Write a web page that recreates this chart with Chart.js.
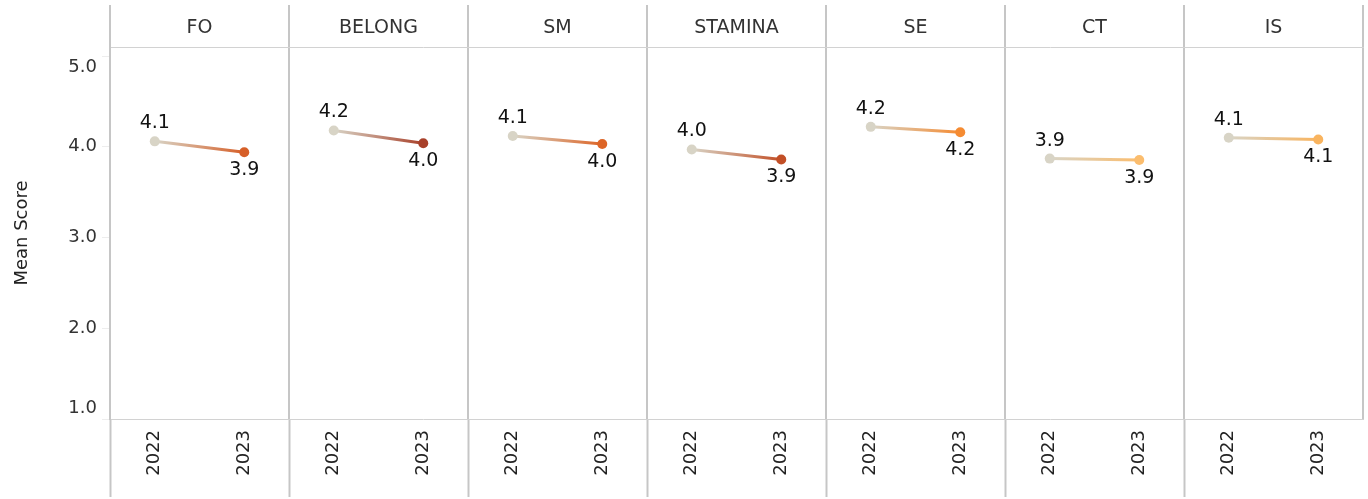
<!DOCTYPE html>
<html>
<head>
<meta charset="utf-8">
<script src="https://cdn.jsdelivr.net/npm/chart.js@4"></script>
<style>
  html, body { margin: 0; padding: 0; background: #fff; }
  #wrap { width: 1368px; height: 499px; }
</style>
</head>
<body>
<div id="wrap"><canvas id="chart"></canvas></div>
<script>
const groups = ['FO', 'BELONG', 'SM', 'STAMINA', 'SE', 'CT', 'IS'];
const years = ['2022', '2023'];
const mean2022 = [4.06, 4.18, 4.12, 3.97, 4.22, 3.87, 4.10];
const mean2023 = [3.94, 4.04, 4.03, 3.86, 4.16, 3.855, 4.08];
const endColors = ['#d65f28', '#a8402a', '#dd6527', '#c24f26', '#f58b32', '#fbbd6e', '#f9b45f'];
const startColor = '#d8d4c6';
const yTicks = [1, 2, 3, 4, 5];

const FONT = 'DejaVu Sans';
const LINE = '#c6c6c6';
const HLINE = '#d2d2d2';
const font = { family: FONT, size: 18 };

// one x category per (group, year) pair
const xLabels = groups.flatMap(() => years);

const datasets = groups.map((g, i) => {
  const data = xLabels.map(() => null);
  data[i * 2] = mean2022[i];
  data[i * 2 + 1] = mean2023[i];
  return {
    label: g,
    data,
    borderWidth: 3,
    borderColor: ctx => {
      const chart = ctx.chart;
      const x = chart.scales.x;
      if (!chart.chartArea || !x) return endColors[i];
      const x0 = x.getPixelForValue(i * 2);
      const x1 = x.getPixelForValue(i * 2 + 1);
      const grad = chart.ctx.createLinearGradient(x0, 0, x1, 0);
      grad.addColorStop(0, startColor);
      grad.addColorStop(1, endColors[i]);
      return grad;
    },
    pointRadius: 5,
    pointHoverRadius: 5,
    pointBorderWidth: 0,
    pointBackgroundColor: ctx => ctx.dataIndex % 2 === 0 ? startColor : endColors[i],
    spanGaps: false
  };
});

// value above the 2022 point, below the 2023 point
const valueLabels = {
  id: 'valueLabels',
  afterDatasetsDraw(chart) {
    const c = chart.ctx;
    c.save();
    c.font = `19px "${FONT}"`;
    c.fillStyle = '#111';
    c.textAlign = 'center';
    c.textBaseline = 'middle';
    chart.data.datasets.forEach((ds, i) => {
      const meta = chart.getDatasetMeta(i);
      [i * 2, i * 2 + 1].forEach((idx, k) => {
        const pt = meta.data[idx];
        c.fillText(ds.data[idx].toFixed(1), pt.x, k === 0 ? pt.y - 18 : pt.y + 18);
      });
    });
    c.restore();
  }
};

new Chart(document.getElementById('chart'), {
  type: 'line',
  data: { labels: xLabels, datasets },
  plugins: [valueLabels],
  options: {
    responsive: true,
    maintainAspectRatio: false,
    animation: false,
    layout: { padding: { top: 5, right: 4, left: 0, bottom: 0 } },
    plugins: { legend: { display: false }, tooltip: { enabled: false } },
    scales: {
      x: {
        type: 'category',
        position: 'bottom',
        offset: true,
        border: { display: true, color: HLINE },
        grid: {
          offset: true,
          drawOnChartArea: false,
          tickLength: 78,
          tickWidth: 2,
          tickColor: ctx => ctx.index % 2 === 0 ? LINE : 'rgba(0,0,0,0)'
        },
        ticks: { autoSkip: false, minRotation: 90, maxRotation: 90, padding: -67, color: '#222', font },
        afterFit: s => { s.height = 80; }
      },
      top: {
        axis: 'x',
        type: 'category',
        position: 'top',
        labels: groups,
        offset: true,
        border: { display: true, color: HLINE },
        grid: { offset: true, drawOnChartArea: true, tickLength: 42, lineWidth: 2, color: LINE },
        ticks: { autoSkip: false, padding: -34, color: '#333', font: { family: FONT, size: 19 } },
        afterFit: s => { s.height = 42; }
      },
      y: {
        min: 1,
        max: 5.1,
        afterBuildTicks: s => { s.ticks = yTicks.map(v => ({ value: v })); },
        border: { display: true, color: LINE, width: 2 },
        grid: { drawOnChartArea: false, tickLength: 8, tickColor: '#ededed' },
        ticks: {
          padding: 5,
          color: '#333',
          font,
          // keep the end labels inside the plot band
          callback: v => v === 5 ? ['', '5.0'] : v === 1 ? ['1.0', ''] : v.toFixed(1)
        },
        title: { display: true, text: 'Mean Score', font, color: '#222', padding: { top: 12 } },
        afterFit: s => { s.width = 110; }
      }
    }
  }
});
</script>
</body>
</html>
